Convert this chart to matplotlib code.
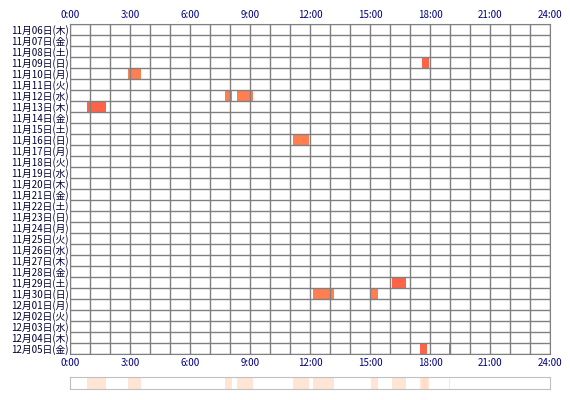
import matplotlib
matplotlib.use("Agg")
import matplotlib.pyplot as plt
import datetime as dt

plt.rcParams['font.family'] = ['Noto Sans CJK JP', 'DejaVu Sans']

start = dt.date(2025, 11, 6)
ndays = 30
wd = ['月', '火', '水', '木', '金', '土', '日']
days = [start + dt.timedelta(d) for d in range(ndays)]
day_labels = [f"{d.month}月{d.day:02d}日({wd[d.weekday()]})" for d in days]

# (row index, start hour, end hour, color)
sess_row = [3, 4, 6, 6, 7, 10, 23, 24, 24, 29, 29]
sess_start = [17.6, 2.9, 7.75, 8.35, 0.85, 11.15, 16.1, 12.15, 15.05, 17.5, 18.95]
sess_end = [17.95, 3.55, 8.1, 9.15, 1.8, 11.95, 16.8, 13.2, 15.4, 17.85, 19.0]
sess_color = ['#FF6347', '#FF7F50', '#FF7F50', '#FF7F50', '#FF6347', '#FF7F50',
              '#FF6347', '#FF7F50', '#FF7F50', '#FF6347', '#FF6347']

xticks = [0, 3, 6, 9, 12, 15, 18, 21, 24]
xtick_labels = ['0:00', '3:00', '6:00', '9:00', '12:00', '15:00', '18:00', '21:00', '24:00']

fig = plt.figure(figsize=(5.7, 4.0), dpi=100)
ax = fig.add_axes([70/570, 1-354/400, 480/570, 330/400])
for r, s, e, c in zip(sess_row, sess_start, sess_end, sess_color):
    ax.add_patch(plt.Rectangle((s, r), e - s, 1, color=c, lw=0, zorder=1))
for h in range(25):
    ax.axvline(h, color='#808080', lw=1, zorder=2)
for r in range(ndays + 1):
    ax.axhline(r, color='#808080', lw=1, zorder=2)
ax.set_xlim(0, 24)
ax.set_ylim(ndays, 0)
ax.set_xticks(xticks)
ax.set_xticklabels(xtick_labels)
ax.set_yticks([i + 0.5 for i in range(ndays)])
ax.set_yticklabels(day_labels)
ax.tick_params(axis='x', top=True, labeltop=True, length=0, labelsize=7, colors='#000080', pad=3)
ax.tick_params(axis='y', length=0, labelsize=7, colors='#000033', pad=1)
for sp in ax.spines.values():
    sp.set_color('#808080')

ax2 = fig.add_axes([70/570, 1-389/400, 480/570, 12/400])
for s, e in zip(sess_start, sess_end):
    ax2.axvspan(s, e, color='#FFDAC4', alpha=0.7, lw=0)
ax2.set_xlim(0, 24)
ax2.set_ylim(0, 1)
ax2.set_xticks([]); ax2.set_yticks([])
for sp in ax2.spines.values():
    sp.set_color('#C0C0C0')

fig.savefig('out.png', dpi=100)
